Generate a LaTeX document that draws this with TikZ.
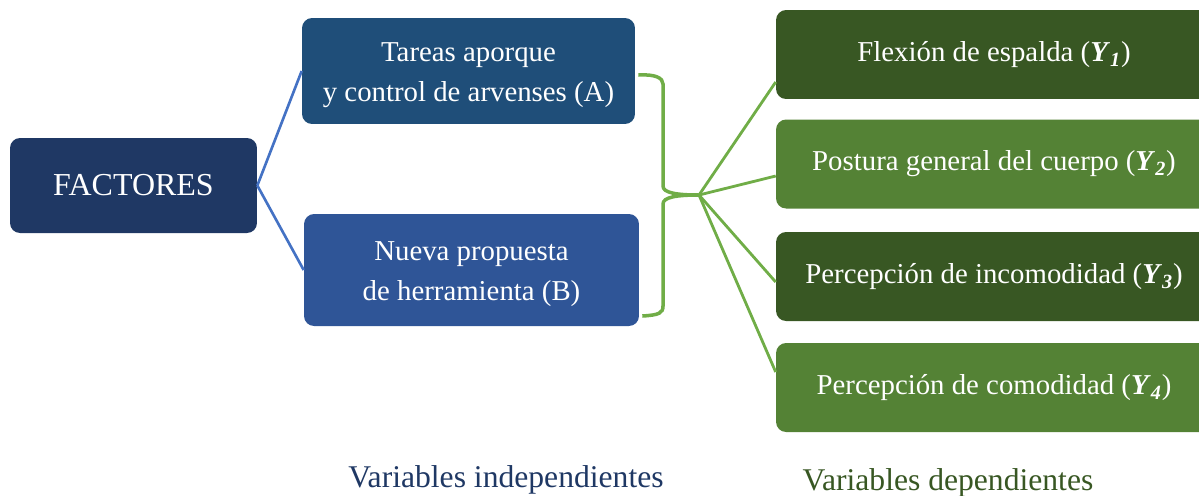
\documentclass[tikz,border=0pt]{standalone}
\usepackage{fontspec}
\setmainfont{Liberation Serif}
\usetikzlibrary{calc}

\definecolor{facnavy}{HTML}{1F3864}
\definecolor{taskblue}{HTML}{1F4E79}
\definecolor{toolblue}{HTML}{2F5597}
\definecolor{darkgreen}{HTML}{385723}
\definecolor{midgreen}{HTML}{548235}
\definecolor{linkblue}{HTML}{4472C4}
\definecolor{linkgreen}{HTML}{70AD47}

\newcommand{\yvar}[1]{\textbf{\textit{Y}}\textsubscript{\textbf{\textit{#1}}}}

\tikzset{
  varbox/.style={rounded corners=5.7pt, text=white, align=center, inner sep=0pt,
    font=\fontsize{16.4}{22.7}\selectfont},
  depbox/.style={varbox, minimum width=8.72cm, minimum height=1.78cm},
  bluelink/.style={draw=linkblue, line width=1.5pt},
  greenlink/.style={draw=linkgreen, line width=1.6pt},
  caption/.style={anchor=base, font=\fontsize{18}{22}\selectfont}
}

\begin{document}
\begin{tikzpicture}[x=0.02cm, y=-0.02cm]
\useasboundingbox (0,0) rectangle (1199,495);

% draw factor and independent variables
\node[varbox, fill=facnavy, minimum width=4.94cm, minimum height=1.9cm,
  font=\fontsize{18.2}{22}\selectfont] (fac) at (133.5,185.5) {FACTORES};
\node[varbox, fill=taskblue, minimum width=6.66cm, minimum height=2.12cm] (ta) at (468.5,71)
  {\strut Tareas aporque \\ y control de arvenses (A)};
\node[varbox, fill=toolblue, minimum width=6.7cm, minimum height=2.24cm] (nb) at (471.5,270)
  {\strut Nueva propuesta \\ de herramienta (B)};

% draw dependent variables
\node[depbox, fill=darkgreen] (y1) at (994,54.5) {Flexión de espalda (\yvar{1})};
\node[depbox, fill=midgreen] (y2) at (994,164) {Postura general del cuerpo (\yvar{2})};
\node[depbox, fill=darkgreen] (y3) at (994,276.5) {Percepción de incomodidad (\yvar{3})};
\node[depbox, fill=midgreen] (y4) at (994,387.5) {Percepción de comodidad (\yvar{4})};

% draw links
\draw[bluelink] (fac.east) -- (ta.west);
\draw[bluelink] (fac.east) -- (nb.west);

\coordinate (tip) at (699,195);
\draw[greenlink, line width=2pt] ($(ta.east)+(3,4)$) .. controls +(17,-1) and +(0,-6) .. (663,84)
  -- (663,186) .. controls +(0,7) and +(-22,0) .. (tip)
  .. controls +(-22,0) and +(0,-7) .. (663,204)
  -- (663,306) .. controls +(0,7) and +(17,-1) .. ($(nb.east)+(3,46)$);

\foreach \n/\dy in {y1/27.5, y2/12, y3/5.5, y4/-15.5}
\draw[greenlink] (tip) -- ($(\n.west)+(0,\dy)$);

% draw captions
\node[caption, text=facnavy] (indep) at (506,487) {Variables independientes};
\node[caption, text=darkgreen] (dep) at (948,490) {Variables dependientes};
\end{tikzpicture}
\end{document}
